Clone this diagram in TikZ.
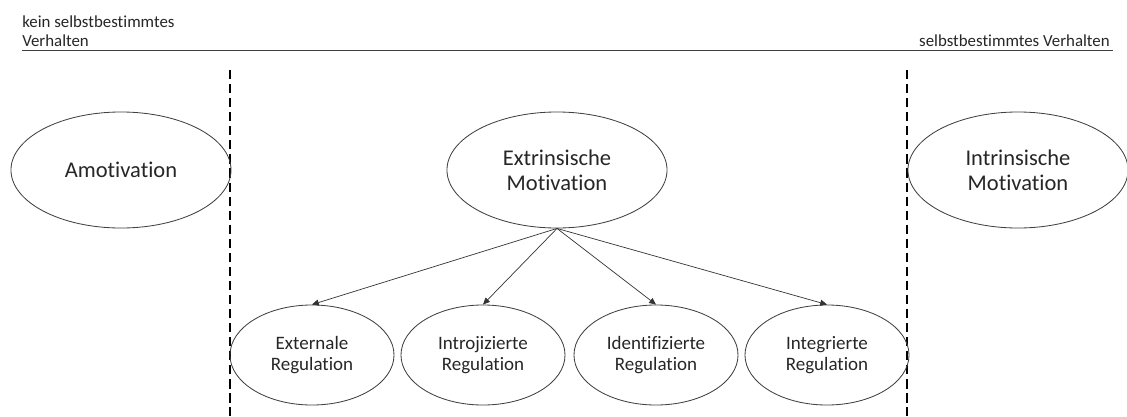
\documentclass[tikz,border=0pt]{standalone}
\usepackage{fontspec}
\setmainfont{Carlito}[Ligatures=NoCommon]
\usepackage{tikz}
\usetikzlibrary{arrows.meta, shapes.geometric}

\begin{document}
\begin{tikzpicture}[
    x=0.025cm, y=-0.025cm,
    every node/.style={text=black!85},
    big/.style={ellipse, draw=black!75, line width=0.6pt, inner sep=0pt, align=center,
      minimum width=5.5cm, minimum height=2.9cm, font=\fontsize{16}{18}\selectfont},
    small/.style={ellipse, draw=black!75, line width=0.6pt, inner sep=0pt, align=center,
      minimum width=4.1cm, minimum height=2.5cm, font=\fontsize{13.5}{15}\selectfont},
    top/.style={inner sep=0pt, font=\fontsize{12}{13.5}\selectfont},
    sep/.style={dash pattern=on 6.5pt off 3.5pt, line width=1.1pt},
    arr/.style={-{Triangle[length=1.7mm, width=1.5mm]}, line width=0.5pt, black!80},
  ]
  \useasboundingbox (0,0) rectangle (1127,416);
  % --- scale on top
  \node[top, anchor=south west, align=left] (lo) at (22,47) {kein selbstbestimmtes\\Verhalten};
  \node[top, anchor=south east] (hi) at (1110,47) {selbstbestimmtes Verhalten};
  \coordinate (rl) at (22,50);
  \coordinate (rr) at (1113,50);
  \draw[line width=0.7pt, black!75] (rl) -- (rr);
  % --- separators
  \coordinate (s1a) at (230,70);
  \coordinate (s1b) at (230,416);
  \coordinate (s2a) at (907,70);
  \coordinate (s2b) at (907,416);
  \draw[sep] (s1a) -- (s1b);
  \draw[sep] (s2a) -- (s2b);
  % --- main types
  \node[big] (amo) at (121,170) {Amotivation};
  \node[big] (ext) at (557,170) {Extrinsische\\Motivation};
  \node[big] (int) at (1018,170) {Intrinsische\\Motivation};
  % --- regulation styles
  \node[small] (exr) at (312,355) {Externale\\Regulation};
  \node[small] (inr) at (483,355) {Introjizierte\\Regulation};
  \node[small] (idr) at (656,355) {Identifizierte\\Regulation};
  \node[small] (igr) at (827,355) {Integrierte\\Regulation};
  % --- edges
  \draw[arr] (ext.south) -- (exr.north);
  \draw[arr] (ext.south) -- (inr.north);
  \draw[arr] (ext.south) -- (idr.north);
  \draw[arr] (ext.south) -- (igr.north);
\end{tikzpicture}
\end{document}
